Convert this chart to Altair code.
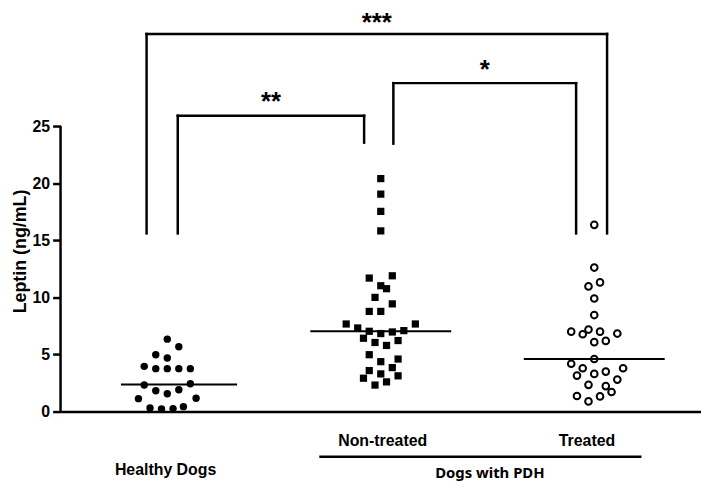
import altair as alt
import pandas as pd
import numpy as np

# ---- data ----
groups = ["Healthy Dogs", "Non-treated", "Treated"]
group_pos = [1.0, 2.0, 3.0]

healthy_vals = [6.34, 5.67, 4.98, 4.69, 3.96, 3.76, 3.76, 3.76, 3.76, 2.32, 2.43,
                1.82, 1.56, 1.91, 1.13, 1.16, 0.32, 0.23, 0.26, 0.43]
healthy_off = [0, 1, -1, 0, -2, -1, 0, 1, 2, -2, 2,
               -1, 0, 1, -2.5, 2.5, -1.5, -0.5, 0.5, 1.4]

nontreated_vals = [20.4, 19.04, 17.53, 15.82, 11.69, 11.89, 11.02, 10.76, 10.0, 9.43,
                   8.77, 8.77, 7.67, 7.32, 7.03, 6.83, 6.97, 7.09, 7.67, 6.42,
                   6.05, 5.79, 6.22, 4.98, 4.37, 4.6, 3.59, 3.3, 3.85, 2.92,
                   3.13, 2.32, 2.6]
nontreated_off = [0, 0, 0, 0, -1, 1, 0, 0.5, -0.5, 1,
                  -1, 0, -3, -2, -1, 0, 1, 2, 3, -1.5,
                  -0.5, 0.5, 1.5, -1, 0, 1.5, -1, 0, 1, -1.5,
                  1.5, -0.5, 0.5]

treated_vals = [16.35, 12.61, 10.96, 11.31, 9.9, 8.45, 7.0, 6.77, 7.18, 7.0,
                6.83, 6.08, 6.19, 4.6, 4.19, 3.79, 3.15, 3.3, 3.5, 3.79,
                2.8, 2.34, 2.23, 1.71, 1.36, 0.89, 1.33]
treated_off = [0, 0, -0.5, 0.5, 0, 0, -2, -1, -0.5, 0.5,
               2, 0, 1, 0, -2, -1, -1.5, 0, 1, 2.5,
               2, -0.5, 1, 1.5, -1.5, -0.5, 0.5]

# median line extents (x, in group-position units)
median_left = [0.783, 1.67, 2.67]
median_right = [1.327, 2.33, 3.33]

# significance brackets
br_labels = ["***", "**", "*"]
br_left = [0.903, 1.049, 2.059]
br_right = [3.06, 1.922, 2.915]
br_top = [33.07, 25.9, 28.76]
br_left_bottom = [15.6, 15.6, 23.46]
br_right_bottom = [15.6, 23.55, 15.6]
br_label_y = [33.33, 26.39, 29.17]

y_ticks = [0, 5, 10, 15, 20, 25]

# ---- build tables ----
SPACING = 0.054  # one dot-width in group-position units
rows = []
for g, p, vals, offs in [(groups[0], group_pos[0], healthy_vals, healthy_off),
                         (groups[1], group_pos[1], nontreated_vals, nontreated_off),
                         (groups[2], group_pos[2], treated_vals, treated_off)]:
    for v, o in zip(vals, offs):
        rows.append({"group": g, "x": p + o * SPACING, "y": v})
pts = pd.DataFrame(rows)

med = pd.DataFrame({
    "group": groups,
    "x": median_left,
    "x2": median_right,
    "y": [float(np.median(healthy_vals)), float(np.median(nontreated_vals)), float(np.median(treated_vals))],
})

segs = []
for i in range(len(br_labels)):
    segs.append({"x": br_left[i], "x2": br_right[i], "y": br_top[i], "y2": br_top[i]})
    segs.append({"x": br_left[i], "x2": br_left[i], "y": br_left_bottom[i], "y2": br_top[i]})
    segs.append({"x": br_right[i], "x2": br_right[i], "y": br_right_bottom[i], "y2": br_top[i]})
segs = pd.DataFrame(segs)

stars = pd.DataFrame({
    "label": br_labels,
    "x": [(a + b) / 2 for a, b in zip(br_left, br_right)],
    "y": br_label_y,
})

XMIN, XMAX = 0.5, 3.5
YMAX = 35.16
xs = alt.Scale(domain=[XMIN, XMAX], nice=False, zero=False)
ys = alt.Scale(domain=[0, YMAX], nice=False, zero=False)

FONT = "Liberation Sans"

x_axis = alt.Axis(labels=False, ticks=False, grid=False, domainColor="black",
                  domainWidth=2.5)
y_axis = alt.Axis(values=y_ticks, domain=False, grid=False, tickSize=8, tickWidth=2.5,
                  tickColor="black", labelFont=FONT, labelFontSize=16,
                  labelFontWeight="bold", labelColor="black", labelPadding=3,
                  title="Leptin (ng/mL)", titleFont=FONT, titleFontSize=18,
                  titleFontWeight="bold", titleColor="black", titleAngle=270,
                  titleX=-40, titleY=243, titleAlign="center", titleBaseline="middle")

healthy = alt.Chart(pts).transform_filter(alt.datum.group == groups[0]).mark_point(
    shape="circle", filled=True, size=56, color="black", opacity=1
)

nontreated = alt.Chart(pts).transform_filter(alt.datum.group == groups[1]).mark_point(
    shape="square", filled=True, size=53, color="black", opacity=1
)

treated = alt.Chart(pts).transform_filter(alt.datum.group == groups[2]).mark_point(
    shape="circle", filled=False, size=45, color="black", strokeWidth=2, opacity=1
)

medians = alt.Chart(med).mark_rule(color="black", strokeWidth=2).encode(x2="x2:Q")

brackets = alt.Chart(segs).mark_rule(color="black", strokeWidth=2.5, strokeCap="square").encode(
    x2="x2:Q", y2="y2:Q",
)

star_text = alt.Chart(stars).mark_text(
    font=FONT, fontSize=26, fontWeight="bold", color="black", baseline="alphabetic", align="center"
).encode(text="label:N")

# y-axis line from 0 to 25
yline = alt.Chart(pd.DataFrame({"x": [XMIN], "y": [y_ticks[0]], "y2": [y_ticks[-1]]})).mark_rule(
    color="black", strokeWidth=2.5
).encode(y2="y2:Q")

# category labels under the axis
cat_labels = pd.DataFrame({
    "text": ["Non-treated", "Treated", "Healthy Dogs"],
    "x": [2.009, 2.966, 0.992],
    "y": [-2.6, -2.6, -5.1],
})
cats = alt.Chart(cat_labels).mark_text(
    font=FONT, fontSize=16, fontWeight="bold", color="black", baseline="middle", align="center"
).encode(text="text:N")

pdh_line = alt.Chart(pd.DataFrame({"x": [1.712], "x2": [3.221], "y": [-3.95]})).mark_rule(
    color="black", strokeWidth=2.5
).encode(x2="x2:Q")

pdh_text = alt.Chart(pd.DataFrame({"text": ["Dogs with PDH"], "x": [2.511], "y": [-5.4]})).mark_text(
    font="Noto Sans", fontSize=15, fontWeight="bold", color="black", baseline="middle", align="center"
).encode(text="text:N")

chart = alt.layer(
    healthy, nontreated, treated, medians, brackets, star_text, yline, cats, pdh_line, pdh_text
).encode(
    x=alt.X("x:Q", scale=xs, axis=x_axis, title=None),
    y=alt.Y("y:Q", scale=ys, axis=y_axis),
).properties(
    width=646, height=405,
    autosize=alt.AutoSizeParams(type="none"),
    padding={"left": 53, "top": 0, "right": 0, "bottom": 71},
    background="white",
).configure_view(stroke=None)

chart.save("out.html", embed_options={"renderer": "svg", "actions": False})
